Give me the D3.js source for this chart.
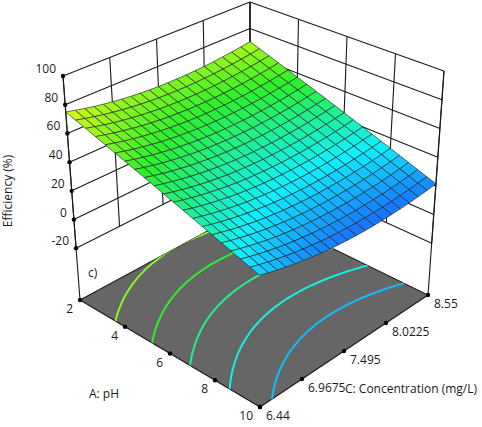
<!DOCTYPE html>
<html>
<head>
<meta charset="utf-8">
<script src="https://cdn.jsdelivr.net/npm/d3@7"></script>
<style>
html, body { margin: 0; padding: 0; background: #fff; }
svg { display: block; font-family: "Open Sans", sans-serif; }
</style>
</head>
<body>
<div id="chart"></div>
<script>
// axis ticks
const phTicks = [2, 4, 6, 8, 10];
const concTicks = [6.44, 6.9675, 7.495, 8.0225, 8.55];
const effTicks = [-20, 0, 20, 40, 60, 80, 100];

// quadratic model in coded units: b0, A, C, AC, A^2, C^2
const modelCoef = [41.1, -23.4, -3.4, -0.9, 1.0, 7.0];
const floorLevel = -56;
const meshSteps = 20;
const contourCount = 5;

const W = 482, H = 427;

// screen corners of the box: l = (pH 2, C 6.44), f = (10, 6.44), r = (10, 8.55), k = (2, 8.55)
const box = {
    floor: { l: [80, 300], f: [260, 407], r: [428, 295], k: [250, 208] },
    top:   { l: [63, 76],  f: [259, 168], r: [444, 71],  k: [250, 2] }
};

const colorStops = ["#1a3cff", "#10f0ff", "#2cf02c", "#fcfc10", "#ff2020"];
const colorValues = [12, 34, 56, 78, 100];
const color = d3.scaleLinear().domain(colorValues).range(colorStops).clamp(true);

const phScale = d3.scaleLinear().domain([phTicks[0], phTicks[phTicks.length - 1]]).range([0, 1]);
const concScale = d3.scaleLinear().domain([concTicks[0], concTicks[concTicks.length - 1]]).range([0, 1]);
const effScale = d3.scaleLinear().domain([floorLevel, effTicks[effTicks.length - 1]]).range([0, 1]);
const codedA = phScale.copy().range([-1, 1]);
const codedC = concScale.copy().range([-1, 1]);

function bilerp(c, a, b) {
    return [0, 1].map(k => c.l[k] * (1 - a) * (1 - b) + c.f[k] * a * (1 - b) + c.r[k] * a * b + c.k[k] * (1 - a) * b);
}

function project(ph, conc, eff) {
    const a = phScale(ph), b = concScale(conc), h = effScale(eff);
    const p0 = bilerp(box.floor, a, b), p1 = bilerp(box.top, a, b);
    return [p0[0] + (p1[0] - p0[0]) * h, p0[1] + (p1[1] - p0[1]) * h];
}

function efficiency(ph, conc) {
    const A = codedA(ph), C = codedC(conc);
    const [b0, bA, bC, bAC, bAA, bCC] = modelCoef;
    return b0 + bA * A + bC * C + bAC * A * C + bAA * A * A + bCC * C * C;
}

const line = d3.line();
const svg = d3.select("#chart").append("svg")
    .attr("width", W).attr("height", H)
    .attr("viewBox", `0 0 ${W} ${H}`);

const wallGroup = svg.append("g").attr("class", "walls");
const floorGroup = svg.append("g").attr("class", "floor");
const surfaceGroup = svg.append("g").attr("class", "surface");
const labelGroup = svg.append("g").attr("class", "labels");

const phMin = phTicks[0], phMax = phTicks[phTicks.length - 1];
const cMin = concTicks[0], cMax = concTicks[concTicks.length - 1];
const effMin = effTicks[0], effMax = effTicks[effTicks.length - 1];

function seg(p, q) {
    wallGroup.append("path")
        .attr("d", line([p, q]))
        .attr("fill", "none")
        .attr("stroke", "#1a1a1a")
        .attr("stroke-width", 1.1);
}

// Left wall (pH = 2) and right wall (C = 8.55)
concTicks.forEach(c => seg(project(phMin, c, effMin), project(phMin, c, effMax)));
phTicks.forEach(p => seg(project(p, cMax, effMin), project(p, cMax, effMax)));
effTicks.forEach(v => {
    seg(project(phMin, cMin, v), project(phMin, cMax, v));
    seg(project(phMin, cMax, v), project(phMax, cMax, v));
});
// Corner posts down to the floor
seg(project(phMin, cMin, floorLevel), project(phMin, cMin, effMax));
seg(project(phMax, cMax, floorLevel), project(phMax, cMax, effMax));
seg(project(phMin, cMax, floorLevel), project(phMin, cMax, effMax));

// Floor
const floorPoly = [
    project(phMin, cMin, floorLevel), project(phMax, cMin, floorLevel),
    project(phMax, cMax, floorLevel), project(phMin, cMax, floorLevel)
];
svg.append("defs").append("clipPath").attr("id", "floorClip")
    .append("path").attr("d", line(floorPoly) + "Z");

floorGroup.append("path")
    .attr("d", line(floorPoly) + "Z")
    .attr("fill", "#666666")
    .attr("stroke", "#1a1a1a")
    .attr("stroke-width", 1.1);

// Surface grid values
const phGrid = d3.range(meshSteps + 1).map(i => phScale.invert(i / meshSteps));
const cGrid = d3.range(meshSteps + 1).map(j => concScale.invert(j / meshSteps));
const gridVals = phGrid.map(p => cGrid.map(c => efficiency(p, c)));
const flat = gridVals.flat();
const eMin = d3.min(flat), eMax = d3.max(flat);
const levels = d3.range(1, contourCount + 1).map(i => eMin + i * (eMax - eMin) / (contourCount + 1));

// Floor contours
const n = 111, pad = 0.05, step = (1 + 2 * pad) / (n - 1);
const values = new Array(n * n);
for (let j = 0; j < n; j++) {
    for (let i = 0; i < n; i++) {
        values[i + j * n] = efficiency(phScale.invert(-pad + i * step), concScale.invert(-pad + j * step));
    }
}
const toFloor = ([x, y]) => project(
    phScale.invert(-pad + (x - 0.5) * step),
    concScale.invert(-pad + (y - 0.5) * step),
    floorLevel);

const contours = d3.contours().size([n, n]).thresholds(levels)(values);
floorGroup.append("g").attr("clip-path", "url(#floorClip)")
    .selectAll("path")
    .data(contours)
    .join("path")
    .attr("d", d => d.coordinates.map(poly => poly.map(ring => line(ring.map(toFloor))).join("")).join(""))
    .attr("fill", "none")
    .attr("stroke", d => color(d.value))
    .attr("stroke-width", 2);

// Surface quads, far to near
const cells = [];
for (let i = 0; i < meshSteps; i++) {
    for (let j = 0; j < meshSteps; j++) {
        const corners = [[i, j], [i + 1, j], [i + 1, j + 1], [i, j + 1]];
        const pts = corners.map(([u, v]) => project(phGrid[u], cGrid[v], gridVals[u][v]));
        const avg = d3.mean(corners, ([u, v]) => gridVals[u][v]);
        cells.push({ pts, avg, depth: (j - i) });
    }
}
cells.sort((a, b) => b.depth - a.depth);

surfaceGroup.selectAll("path")
    .data(cells)
    .join("path")
    .attr("d", d => line(d.pts) + "Z")
    .attr("fill", d => color(d.avg))
    .attr("stroke", "#222")
    .attr("stroke-width", 0.65)
    .attr("stroke-linejoin", "round");

// Tick dots and labels
function dot(p) {
    labelGroup.append("circle").attr("cx", p[0]).attr("cy", p[1]).attr("r", 2.2).attr("fill", "#000");
}
function label(x, y, txt, anchor) {
    return labelGroup.append("text")
        .attr("x", x).attr("y", y)
        .attr("text-anchor", anchor)
        .attr("font-size", "12px")
        .attr("fill", "#1a1a1a")
        .text(txt);
}

effTicks.forEach(v => {
    const p = project(phMin, cMin, v);
    dot(p);
    label(p[0] - 7, p[1] - 3, v, "end");
});

phTicks.forEach(v => {
    const p = project(v, cMin, floorLevel);
    dot(p);
    label(p[0] - 7, p[1] + 13, v, "end");
});

concTicks.forEach(v => {
    const p = project(phMax, v, floorLevel);
    dot(p);
    label(p[0] + 6, p[1] + 13, v, "start");
});

const phMid = project(6, cMin, floorLevel);
label(phMid[0] - 81, phMid[1] + 44, "A: pH", "start");

const cLab = project(phMax, concTicks[1], floorLevel);
label(cLab[0] + 43, cLab[1] + 14, "C: Concentration (mg/L)", "start");

labelGroup.append("text")
    .attr("transform", "translate(12,191) rotate(-90)")
    .attr("text-anchor", "middle")
    .attr("font-size", "12px")
    .attr("fill", "#1a1a1a")
    .text("Efficiency (%)");

const cornerLow = project(phMin, cMin, effMin);
label(cornerLow[0] + 12, cornerLow[1] + 29, "c)", "start");
</script>
</body>
</html>
